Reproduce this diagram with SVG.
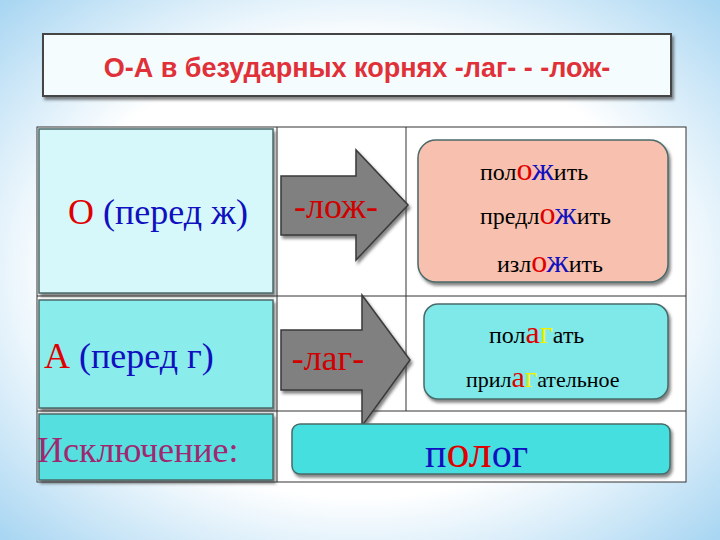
<svg xmlns="http://www.w3.org/2000/svg" width="720" height="540" viewBox="0 0 720 540">
<defs>
<radialGradient id="bg" cx="50%" cy="50%" r="70%">
<stop offset="0.6" stop-color="#ffffff"/><stop offset="1" stop-color="#a9d6f2"/>
</radialGradient>
<filter id="sh" x="-5%" y="-5%" width="115%" height="120%"><feDropShadow dx="2" dy="3" stdDeviation="1.5" flood-color="#333" flood-opacity="0.6"/></filter>
</defs>
<style>
.ser{font-family:"Liberation Serif",serif}
.box{stroke:#4a6a6a;stroke-width:1.5;filter:url(#sh)}
.arr{fill:#808080;stroke:#3a3a3a;stroke-width:1.5;filter:url(#sh)}
.k{fill:#000}.r{fill:#e00000}.b{fill:#1010c0}.y{fill:#f0f000}
</style>
<rect width="720" height="540" fill="url(#bg)"/>
<g id="title">
<rect x="43" y="34" width="628" height="62" fill="#f4fcfd" stroke="#444" stroke-width="2" filter="url(#sh)"/>
<text x="357" y="77" text-anchor="middle" font-family="Liberation Sans,sans-serif" font-weight="bold" font-size="27" fill="#e03038">О-А в безударных корнях -лаг- - -лож-</text>
</g>
<g id="table" fill="#fff" stroke="#333" stroke-width="1">
<rect x="37" y="127" width="649" height="355"/>
<line x1="277" y1="127" x2="277" y2="482"/>
<line x1="406" y1="127" x2="406" y2="411"/>
<line x1="37" y1="296" x2="686" y2="296"/>
<line x1="37" y1="411" x2="686" y2="411"/>
</g>
<g id="cellO">
<rect x="39" y="129" width="234" height="164" fill="#d6f8fa" class="box"/>
<text x="158" y="224" text-anchor="middle" class="ser" font-size="36"><tspan class="r">О</tspan><tspan class="b"> (перед ж)</tspan></text>
</g>
<g id="cellA">
<rect x="39" y="300" width="234" height="108" fill="#8aeceb" class="box"/>
<text x="44" y="368" class="ser" font-size="36"><tspan class="r">А</tspan><tspan class="b"> (перед г)</tspan></text>
</g>
<g id="cellEx">
<rect x="39" y="414" width="234" height="66" fill="#55dfdf" class="box"/>
<text x="37" y="462" class="ser" font-size="36" fill="#a02870">Исключение:</text>
</g>
<g id="connectors">
<path class="arr" d="M281,176 H356 V150 L408,205 L356,260 V235 H281 Z"/>
<path class="arr" d="M281,330 H362 V295 L410,360 L362,426 V390 H281 Z"/>
<text x="336" y="218" text-anchor="middle" class="ser" font-size="36" fill="#d00000">-лож-</text>
<text x="328" y="370" text-anchor="middle" class="ser" font-size="36" fill="#d00000">-лаг-</text>
</g>
<g id="lozh">
<rect x="418" y="140" width="250" height="142" rx="18" fill="#f8c0ae" class="box"/>
<text x="480" y="180" class="ser" font-size="24"><tspan class="k">пол</tspan><tspan class="r" font-size="32">о</tspan><tspan class="b" font-size="32">ж</tspan><tspan class="k">ить</tspan></text>
<text x="480" y="224" class="ser" font-size="24"><tspan class="k">предл</tspan><tspan class="r" font-size="32">о</tspan><tspan class="b" font-size="32">ж</tspan><tspan class="k">ить</tspan></text>
<text x="497" y="272" class="ser" font-size="24"><tspan class="k">изл</tspan><tspan class="r" font-size="32">о</tspan><tspan class="b" font-size="32">ж</tspan><tspan class="k">ить</tspan></text>
</g>
<g id="lag">
<rect x="424" y="304" width="244" height="95" rx="14" fill="#7ee9e8" class="box"/>
<text x="489" y="343" class="ser" font-size="24"><tspan class="k">пол</tspan><tspan class="r" font-size="32">а</tspan><tspan class="y" font-size="32">г</tspan><tspan class="k">ать</tspan></text>
<text x="466" y="387" class="ser" font-size="22"><tspan class="k">прил</tspan><tspan class="r" font-size="30">а</tspan><tspan class="y" font-size="30">г</tspan><tspan class="k">ательное</tspan></text>
</g>
<g id="polog">
<rect x="292" y="424" width="378" height="50" rx="8" fill="#44dfdf" class="box"/>
<text x="425" y="467" class="ser" font-size="40"><tspan class="b">п</tspan><tspan class="r" font-size="46">ол</tspan><tspan class="b">ог</tspan></text>
</g>
</svg>
